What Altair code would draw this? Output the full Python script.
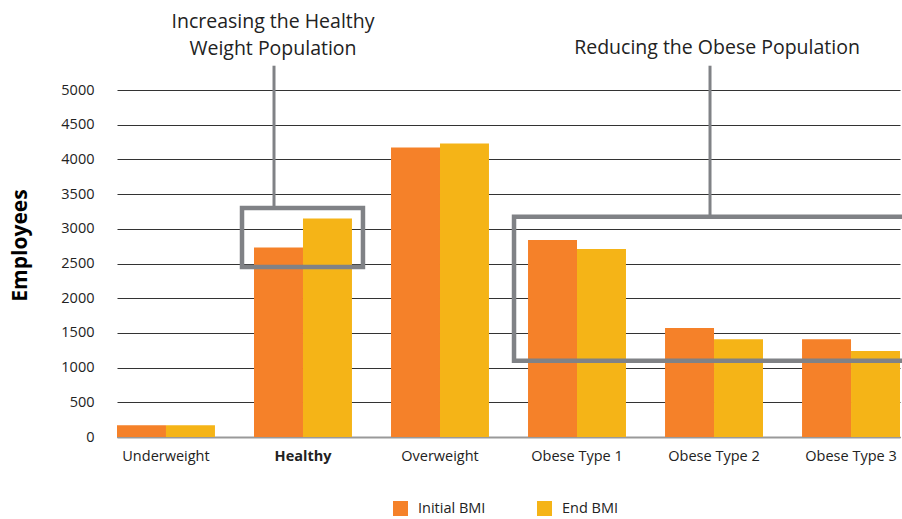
import altair as alt
import pandas as pd

categories = ["Underweight", "Healthy", "Overweight", "Obese Type 1", "Obese Type 2", "Obese Type 3"]
initial_bmi = [170, 2730, 4170, 2840, 1570, 1410]
end_bmi = [170, 3150, 4230, 2710, 1410, 1240]
series_names = ["Initial BMI", "End BMI"]
series_colors = ["#F58129", "#F5B417"]
y_ticks = list(range(0, 5001, 500))

# annotation boxes (in data units)
healthy_box = {"c1": "Healthy", "c2": "Healthy", "lo": 2450, "hi": 3300, "top": 5350}
obese_box = {"c1": "Obese Type 1", "c2": "Obese Type 3", "lo": 1100, "hi": 3175, "top": 5350}

FONT = "Open Sans"
GREY = "#808286"

rows = []
for c, a, b in zip(categories, initial_bmi, end_bmi):
    rows.append({"cat": c, "series": series_names[0], "value": a})
    rows.append({"cat": c, "series": series_names[1], "value": b})
df = pd.DataFrame(rows)

xscale = alt.Scale(domain=categories, paddingInner=0.285, paddingOuter=0)
yscale = alt.Scale(domain=[0, 5000], nice=False)

xaxis = alt.Axis(title=None, labelAngle=0, labelFontSize=14.5, labelFont=FONT,
                 labelColor="#222222", labelPadding=12, ticks=False,
                 domain=True, domainColor="#999999", domainWidth=2,
                 labelFontWeight={"condition": {"test": "datum.value == 'Healthy'", "value": "bold"},
                                  "value": "normal"})
yaxis = alt.Axis(values=y_ticks, format="d", labelOverlap=False,
                 title="Employees", titleFontSize=21, titleFont=FONT,
                 titleFontWeight="bold", titleColor="#000000", titleAngle=270,
                 titleX=-97, titleY=155, titleAlign="center", titleBaseline="middle",
                 domain=False, ticks=False, tickSize=0, labelPadding=23,
                 labelFontSize=14.5, labelFont=FONT, labelColor="#222222",
                 gridColor="#333333", gridWidth=1)

bars = alt.Chart(df).mark_bar().encode(
    x=alt.X("cat:N", scale=xscale, sort=categories, axis=xaxis),
    xOffset=alt.XOffset("series:N", sort=series_names, scale=alt.Scale(domain=series_names, paddingInner=0, paddingOuter=0)),
    y=alt.Y("value:Q", scale=yscale, axis=yaxis),
    color=alt.Color("series:N", sort=series_names,
                    scale=alt.Scale(domain=series_names, range=series_colors),
                    legend=alt.Legend(title=None, orient="none", legendX=276, legendY=411,
                                      direction="horizontal", symbolType="square", symbolSize=225,
                                      symbolStrokeWidth=0, labelFontSize=14.5, labelFont=FONT,
                                      labelColor="#222222", labelOffset=10, columnPadding=51)),
)

hb = pd.DataFrame([healthy_box])
ob = pd.DataFrame([obese_box])

box1 = alt.Chart(hb).mark_rect(filled=False, stroke=GREY, strokeWidth=4.5, xOffset=-12, x2Offset=11).encode(
    x=alt.X("c1:N", scale=xscale, bandPosition=0, axis=xaxis),
    x2=alt.X2("c2", bandPosition=1),
    y=alt.Y("lo:Q", scale=yscale, axis=yaxis),
    y2="hi:Q",
)
box2 = alt.Chart(ob).mark_rect(filled=False, stroke=GREY, strokeWidth=4.5, xOffset=-14, x2Offset=6).encode(
    x=alt.X("c1:N", scale=xscale, bandPosition=0, axis=xaxis),
    x2=alt.X2("c2", bandPosition=1),
    y=alt.Y("lo:Q", scale=yscale, axis=yaxis),
    y2="hi:Q",
)

conn1 = alt.Chart(hb).mark_rule(stroke=GREY, strokeWidth=3, xOffset=20).encode(
    x=alt.X("c1:N", scale=xscale, bandPosition=0, axis=xaxis),
    y=alt.Y("top:Q", scale=yscale, axis=yaxis),
    y2="hi:Q",
)
ob2 = pd.DataFrame([{"c": "Obese Type 2", "top": obese_box["top"], "hi": obese_box["hi"]}])
conn2 = alt.Chart(ob2).mark_rule(stroke=GREY, strokeWidth=3, xOffset=-4).encode(
    x=alt.X("c:N", scale=xscale, bandPosition=0.5, axis=xaxis),
    y=alt.Y("top:Q", scale=yscale, axis=yaxis),
    y2="hi:Q",
)

ann1 = alt.Chart(pd.DataFrame([{"c": "Healthy", "t": "Increasing the Healthy\nWeight Population"}])).mark_text(
    font=FONT, fontSize=19.5, color="#222222", lineBreak="\n", lineHeight=27, baseline="middle",
    align="center", dx=19).encode(
    x=alt.X("c:N", scale=xscale, bandPosition=0, axis=xaxis),
    y=alt.value(-68),
    text="t:N",
)
ann2 = alt.Chart(pd.DataFrame([{"c": "Obese Type 2", "t": "Reducing the Obese Population"}])).mark_text(
    font=FONT, fontSize=19.5, color="#222222", baseline="middle", align="center", dx=3).encode(
    x=alt.X("c:N", scale=xscale, bandPosition=0.5, axis=xaxis),
    y=alt.value(-42),
    text="t:N",
)

chart = alt.layer(bars, box1, box2, conn1, conn2, ann1, ann2).properties(
    width=783, height=347,
    autosize=alt.AutoSizeParams(type="none"),
    padding={"left": 117, "top": 90, "right": 2, "bottom": 82},
).configure_view(stroke=None)

chart.save("out.html", embed_options={"renderer": "svg", "actions": False})
